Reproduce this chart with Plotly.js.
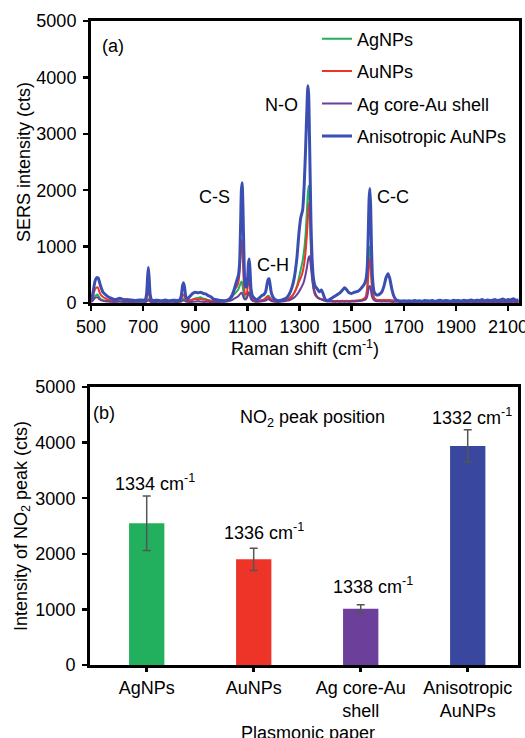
<!DOCTYPE html>
<html>
<head>
<meta charset="utf-8">
<script src="https://cdn.plot.ly/plotly-3.0.1.min.js"></script>
<style>html,body{margin:0;padding:0;background:#fff;}#chart{width:525px;height:738px;}</style>
</head>
<body>
<div id="chart"></div>
<script>
// ---------- Panel (a): SERS spectra ----------
const ramanShift = [
  500,505,510,515,520,525,528,532,537,545,555,565,580,595,610,625,640,655,670,685,700,
  708,713,717,720,723,727,732,740,755,770,785,800,815,830,840,
  846,851,855,859,864,870,
  880,890,900,910,920,930,940,950,960,970,980,990,1000,1010,1020,1030,1040,1050,
  1058,1065,1070,1074,1077,1080,1083,1087,1092,1097,1101,1104,1107,1110,1114,1120,
  1128,1137,1146,1155,1163,1170,1176,1180,1183,1187,1192,1200,1210,1220,1230,1240,1250,
  1260,1270,1280,1290,1298,1305,1312,1318,1323,1328,1332,1335,1338,1341,1344,1348,1353,1360,1368,1376,1384,1390,1397,
  1405,1415,1425,1435,1445,1455,1465,1473,1480,1490,1500,1510,1520,1530,1540,1548,1555,
  1560,1564,1567,1570,1573,1576,1580,1586,1593,1600,1608,1616,1624,1632,1640,1647,1654,1662,1670,1680,1690,1700,
  1710,1720,1730,1740,1750,1760,1770,1780,1790,1800,1810,1820,1830,1840,1850,1860,1870,1880,1890,1900,1910,1920,
  1930,1940,1950,1960,1970,1980,1990,2000,2010,2020,2030,2040,2050,2060,2070,2080,2090,2100,2110,2120,2130,2140
];
const agNPs = [
  20,40,80,120,140,150,130,100,70,50,40,35,30,25,30,20,20,25,20,20,25,
  20,30,60,70,50,30,20,20,25,20,20,20,25,20,25,
  40,70,80,60,40,30,
  40,60,80,90,100,80,70,50,40,30,25,20,25,30,40,60,100,160,
  200,240,300,350,380,350,250,150,90,100,140,180,200,150,80,40,
  30,30,35,45,60,90,120,130,120,90,60,40,30,25,30,40,55,
  70,110,180,300,450,600,750,950,1200,1600,1950,2080,1900,1400,900,500,250,140,100,80,70,60,50,
  40,35,35,30,35,30,35,30,35,30,35,35,40,45,55,70,110,
  300,650,950,1000,850,500,220,100,60,50,50,45,50,45,45,40,40,35,35,30,25,30,
  20,15,20,25,15,20,25,15,20,15,20,25,15,20,15,20,25,15,20,15,20,25,
  15,20,15,20,25,15,20,15,20,25,15,20,15,20,25,15,20,15,20,25,20,20
];
const auNPs = [
  40,80,160,240,270,280,260,200,150,110,80,60,50,40,70,60,70,45,50,40,45,
  45,80,170,200,150,60,40,40,45,35,40,35,40,45,45,
  70,130,150,120,70,50,
  50,60,70,60,70,60,55,50,40,35,40,30,35,40,50,80,140,230,
  280,360,550,900,1120,1050,700,300,150,160,280,380,420,300,120,60,
  40,35,40,50,60,80,100,110,100,80,60,40,30,30,35,45,60,
  80,120,180,280,380,450,550,700,900,1200,1500,1720,1780,1550,1000,600,300,150,100,80,70,60,50,
  45,40,40,35,40,35,40,35,40,35,40,40,45,50,60,80,120,
  250,500,720,780,650,400,180,90,60,50,55,50,55,50,55,50,50,45,50,40,30,30,
  25,30,20,30,25,30,20,25,30,20,25,30,20,25,30,20,25,30,20,25,30,25,
  20,25,30,25,20,30,25,20,30,25,30,25,20,30,25,30,35,25,30,35,25,30
];
const agCoreAuShell = [
  20,30,60,90,100,100,90,70,50,40,30,25,20,20,25,20,20,15,20,20,20,
  20,25,40,50,40,25,20,15,20,20,15,20,20,15,20,
  25,40,50,40,25,20,
  20,20,25,30,25,20,20,20,15,15,15,15,20,20,25,35,50,80,
  100,120,150,170,180,170,130,80,60,80,130,170,180,130,70,40,
  25,20,25,30,35,45,60,70,65,50,35,25,20,20,25,30,40,
  50,70,100,150,200,260,320,400,500,620,740,810,830,760,620,450,300,180,110,80,60,50,40,
  30,25,25,20,25,20,25,20,25,20,25,25,30,35,40,50,70,
  120,220,290,300,260,160,90,50,35,30,30,25,30,25,25,25,20,20,20,20,15,20,
  15,20,15,10,15,20,15,10,15,20,15,10,15,20,15,10,15,20,15,10,15,20,
  15,10,15,20,15,10,15,20,15,10,15,20,15,10,15,20,15,10,15,20,15,15
];
const anisotropicAuNPs = [
  60,120,250,380,440,450,440,380,300,200,150,110,80,60,85,60,50,55,45,55,50,
  60,150,450,630,450,150,60,45,50,40,55,40,50,45,55,
  120,300,360,280,110,70,
  120,170,190,180,190,170,160,130,110,70,60,50,45,40,45,60,120,250,
  380,480,700,1400,2000,2130,1700,800,300,280,450,700,780,600,250,120,
  80,60,90,130,150,200,350,420,430,330,180,90,50,40,50,70,90,
  150,260,450,800,1250,1520,1650,2100,2700,3400,3850,3700,3000,2200,1400,800,450,300,250,200,230,170,80,
  40,60,90,120,150,180,230,270,240,180,170,190,200,230,280,330,420,
  650,1300,1850,2030,1700,1000,450,200,150,140,160,200,300,450,520,420,250,120,60,40,35,40,
  35,40,30,45,35,40,30,45,40,35,45,30,40,50,35,45,40,30,50,40,45,35,
  50,40,45,55,40,50,45,60,40,55,45,50,60,45,55,70,50,60,55,75,50,60
];
const seriesNames = ['AgNPs','AuNPs','Ag core-Au shell','Anisotropic AuNPs'];
const spectraTicks = [500,700,900,1100,1300,1500,1700,1900,2100];

// ---------- Panel (b): NO2 peak intensity ----------
const papers = ['AgNPs','AuNPs','Ag core-Au<br>shell','Anisotropic<br>AuNPs'];
const peakIntensity = [2550, 1900, 1010, 3940];
const peakError = [490, 200, 75, 290];
const peakPosition = ['1334','1336','1338','1332'];
const intensityTicks = [0,1000,2000,3000,4000,5000];

const colors = ['#22b05e','#ee3328','#6b3f9a','#3b4fb2'];
const barColors = ['#22b05e','#ee3328','#6b3f9a','#39489e'];
const FONT = 'Liberation Sans, Arial, sans-serif';
const FS = 18;

const spectra = [agNPs, auNPs, agCoreAuShell, anisotropicAuNPs];
const traces = spectra.map((ys, i) => ({
  type: 'scatter', mode: 'lines', x: ramanShift, y: ys, name: seriesNames[i],
  line: {color: colors[i], width: i === 3 ? 3 : 2, shape: 'spline', smoothing: 0.6},
  xaxis: 'x', yaxis: 'y', legendgroup: 'g' + i, showlegend: true
}));
traces.push({
  type: 'bar', x: papers, y: peakIntensity, xaxis: 'x2', yaxis: 'y2',
  marker: {color: barColors, line: {width: 0}}, width: 0.33, showlegend: false,
  error_y: {type: 'data', array: peakError, visible: true, color: '#555', thickness: 1.5, width: 4}
});

const annFont = {family: FONT, size: FS, color: '#000'};
const annotations = [
  {text: '(a)', x: 585, y: 4557, xref: 'x', yref: 'y'},
  {text: 'N-O', x: 1229, y: 3511, xref: 'x', yref: 'y'},
  {text: 'C-S', x: 974, y: 1879, xref: 'x', yref: 'y'},
  {text: 'C-H', x: 1198, y: 674, xref: 'x', yref: 'y'},
  {text: 'C-C', x: 1660, y: 1879, xref: 'x', yref: 'y'},
  {text: '(b)', x: -0.4, y: 4532, xref: 'x2', yref: 'y2', xanchor: 'center'},
  {text: 'NO<sub>2</sub> peak position', x: 1.55, y: 4442, xref: 'x2', yref: 'y2'},
  // x-axis title of panel (b), placed low so it is partly cut by the edge as in the reference
  {text: 'Plasmonic paper', x: 308/525, y: 1 - 733/738, xref: 'paper', yref: 'paper'}
].map(a => Object.assign({showarrow: false, font: annFont, xanchor: 'center', yanchor: 'middle'}, a));
const labelY = [3291, 2398, 1421, 4466];
const labelShift = [8, 10, 12, 4];
peakPosition.forEach((p, i) => annotations.push({
  text: p + ' cm<sup>-1</sup>', x: papers[i], y: labelY[i], xref: 'x2', yref: 'y2',
  showarrow: false, font: annFont, xanchor: 'center', yanchor: 'middle', xshift: labelShift[i]
}));

const axisCommon = {
  showline: true, linecolor: '#000', linewidth: 3, mirror: true, showgrid: false, zeroline: false,
  ticks: 'outside', ticklen: 5, tickwidth: 2.5, tickcolor: '#000', ticklabeloverflow: 'allow',
  tickfont: {family: FONT, size: FS, color: '#000'}, fixedrange: true
};

const layout = {
  width: 525, height: 738, margin: {l: 0, r: 0, t: 0, b: 0},
  paper_bgcolor: '#fff', plot_bgcolor: '#fff',
  font: {family: FONT, size: FS, color: '#000'},
  xaxis: Object.assign({}, axisCommon, {
    domain: [91/525, 519/525], range: [500, 2142], tickvals: spectraTicks, anchor: 'y',
    title: {text: 'Raman shift (cm<sup>-1</sup>)', font: {family: FONT, size: FS}, standoff: 4}
  }),
  yaxis: Object.assign({}, axisCommon, {
    domain: [1 - 303/738, 1 - 21/738], range: [0, 5000], tickvals: [0,1000,2000,3000,4000,5000], anchor: 'x',
    ticklabelstandoff: 3,
    title: {text: 'SERS intensity (cts)', font: {family: FONT, size: FS}, standoff: 2}
  }),
  xaxis2: Object.assign({}, axisCommon, {
    domain: [90/525, 518/525], range: [-0.53, 3.47], type: 'category', anchor: 'y2',
    ticklen: 4, tickwidth: 3
  }),
  yaxis2: Object.assign({}, axisCommon, {
    domain: [1 - 665/738, 1 - 387/738], range: [0, 5000], tickvals: intensityTicks, anchor: 'x2',
    ticklabelstandoff: 3,
    title: {text: 'Intensity of NO<sub>2</sub> peak (cts)', font: {family: FONT, size: FS}, standoff: 4}
  }),
  showlegend: true,
  legend: {
    x: 317/525, y: 1 - 20.5/738, xanchor: 'left', yanchor: 'top', bgcolor: 'rgba(0,0,0,0)',
    font: {family: FONT, size: FS, color: '#000'}, traceorder: 'grouped', tracegroupgap: 6,
    itemclick: false, itemdoubleclick: false
  },
  annotations: annotations
};

Plotly.newPlot('chart', traces, layout, {displayModeBar: false, staticPlot: true});
</script>
</body>
</html>
